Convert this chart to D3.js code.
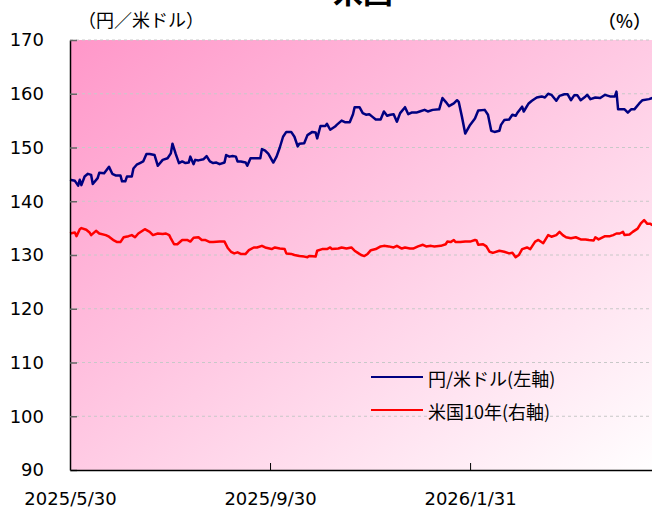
<!DOCTYPE html>
<html>
<head>
<meta charset="utf-8">
<script src="https://d3js.org/d3.v7.min.js"></script>
<style>
body { margin: 0; background: #fff; }
svg { display: block; font-family: "DejaVu Sans", Verdana, sans-serif; }
.jp { font-family: "Noto Sans CJK JP", sans-serif; }
</style>
</head>
<body>
<svg id="chart" width="652" height="509"></svg>
<script>
// 円/米ドル (left axis)
const usdJpy = [
["2025-05-30",144.0],["2025-06-02",143.8],["2025-06-04",142.9],["2025-06-05",144.0],["2025-06-06",143.0],
["2025-06-08",144.6],["2025-06-10",145.1],["2025-06-12",144.9],["2025-06-13",143.2],["2025-06-16",144.3],
["2025-06-17",145.3],["2025-06-20",145.2],["2025-06-23",146.4],["2025-06-25",145.1],["2025-06-27",144.8],
["2025-06-30",144.8],["2025-07-01",143.7],["2025-07-03",143.7],["2025-07-04",144.6],["2025-07-07",144.6],
["2025-07-08",146.1],["2025-07-10",146.8],["2025-07-12",147.1],["2025-07-14",147.4],["2025-07-16",148.8],
["2025-07-18",148.8],["2025-07-21",148.6],["2025-07-23",146.6],["2025-07-26",147.7],["2025-07-29",148.0],
["2025-07-31",148.9],["2025-08-01",150.7],["2025-08-03",148.8],["2025-08-05",147.1],["2025-08-07",147.4],
["2025-08-09",147.1],["2025-08-11",147.2],["2025-08-12",148.3],["2025-08-14",146.9],["2025-08-15",147.7],
["2025-08-17",147.6],["2025-08-20",147.8],["2025-08-22",148.4],["2025-08-24",147.4],["2025-08-26",147.1],
["2025-08-28",147.2],["2025-08-30",146.9],["2025-09-02",147.2],["2025-09-03",148.6],["2025-09-05",148.3],
["2025-09-07",148.4],["2025-09-09",148.3],["2025-09-10",147.4],["2025-09-12",147.4],["2025-09-15",147.2],
["2025-09-16",146.6],["2025-09-18",148.0],["2025-09-21",148.0],["2025-09-24",148.0],["2025-09-25",149.7],
["2025-09-27",149.4],["2025-09-29",148.8],["2025-10-02",147.2],["2025-10-04",148.3],["2025-10-06",150.0],
["2025-10-08",152.0],["2025-10-10",152.9],["2025-10-13",152.9],["2025-10-15",152.0],["2025-10-17",150.2],
["2025-10-18",150.7],["2025-10-21",150.8],["2025-10-23",152.3],["2025-10-26",152.9],["2025-10-28",152.8],
["2025-10-29",151.7],["2025-10-31",154.0],["2025-11-03",154.0],["2025-11-04",154.4],["2025-11-06",153.3],
["2025-11-09",153.9],["2025-11-10",154.2],["2025-11-13",155.0],["2025-11-15",154.7],["2025-11-18",154.7],
["2025-11-20",156.2],["2025-11-21",157.5],["2025-11-24",157.5],["2025-11-26",156.4],["2025-11-28",156.1],
["2025-11-30",156.2],["2025-12-02",155.7],["2025-12-04",155.2],["2025-12-07",155.2],["2025-12-09",156.7],
["2025-12-11",155.9],["2025-12-13",156.1],["2025-12-15",156.2],["2025-12-17",154.8],["2025-12-19",156.4],
["2025-12-22",157.5],["2025-12-24",156.2],["2025-12-26",156.5],["2025-12-29",156.5],["2025-12-31",156.7],
["2026-01-03",157.0],["2026-01-05",156.7],["2026-01-08",157.0],["2026-01-12",157.1],["2026-01-14",159.2],
["2026-01-16",158.5],["2026-01-18",157.7],["2026-01-21",158.2],["2026-01-23",158.8],["2026-01-24",158.5],
["2026-01-26",155.7],["2026-01-28",152.6],["2026-01-31",154.2],["2026-02-03",155.4],["2026-02-05",156.9],
["2026-02-09",157.0],["2026-02-11",156.1],["2026-02-13",153.1],["2026-02-15",152.9],["2026-02-18",153.1],
["2026-02-19",154.2],["2026-02-21",155.1],["2026-02-24",155.2],["2026-02-26",156.1],["2026-02-28",155.9],
["2026-03-01",156.4],["2026-03-04",157.6],["2026-03-05",156.7],["2026-03-08",158.2],["2026-03-10",158.7],
["2026-03-13",159.3],["2026-03-16",159.5],["2026-03-18",159.3],["2026-03-20",160.0],["2026-03-22",159.8],
["2026-03-25",158.7],["2026-03-27",159.6],["2026-03-30",159.9],["2026-04-01",159.9],["2026-04-03",158.8],
["2026-04-05",159.7],["2026-04-07",159.7],["2026-04-09",158.8],["2026-04-12",159.5],["2026-04-13",159.8],
["2026-04-15",159.0],["2026-04-18",159.3],["2026-04-21",159.2],["2026-04-24",159.8],["2026-04-27",159.5],
["2026-04-30",159.5],["2026-05-01",160.4],["2026-05-02",157.1],["2026-05-06",157.1],["2026-05-08",156.5],
["2026-05-10",157.1],["2026-05-12",157.1],["2026-05-15",158.2],["2026-05-17",158.8],["2026-05-21",159.0],
["2026-05-23",159.2]
];

// 米国10年 (right axis, %)
const us10y = [
["2025-05-30",4.40],["2025-06-02",4.42],["2025-06-03",4.35],["2025-06-05",4.48],["2025-06-06",4.50],
["2025-06-09",4.47],["2025-06-11",4.42],["2025-06-12",4.37],["2025-06-15",4.45],["2025-06-17",4.40],
["2025-06-21",4.37],["2025-06-23",4.34],["2025-06-26",4.27],["2025-06-28",4.24],["2025-06-30",4.24],
["2025-07-02",4.33],["2025-07-05",4.35],["2025-07-07",4.37],["2025-07-09",4.33],["2025-07-11",4.40],
["2025-07-15",4.48],["2025-07-18",4.43],["2025-07-20",4.37],["2025-07-23",4.40],["2025-07-26",4.39],
["2025-07-28",4.40],["2025-07-30",4.37],["2025-07-31",4.31],["2025-08-02",4.20],["2025-08-04",4.20],
["2025-08-07",4.28],["2025-08-10",4.28],["2025-08-12",4.25],["2025-08-14",4.32],["2025-08-17",4.33],
["2025-08-19",4.28],["2025-08-21",4.28],["2025-08-24",4.24],["2025-08-26",4.24],["2025-08-30",4.25],
["2025-09-02",4.25],["2025-09-04",4.13],["2025-09-06",4.06],["2025-09-08",4.03],["2025-09-10",4.05],
["2025-09-12",4.02],["2025-09-15",4.02],["2025-09-17",4.09],["2025-09-20",4.14],["2025-09-22",4.14],
["2025-09-25",4.17],["2025-09-27",4.14],["2025-10-01",4.11],["2025-10-03",4.14],["2025-10-06",4.12],
["2025-10-09",4.11],["2025-10-10",4.03],["2025-10-13",4.02],["2025-10-15",4.00],["2025-10-18",3.98],
["2025-10-21",3.97],["2025-10-23",3.96],["2025-10-24",3.98],["2025-10-28",3.97],["2025-10-29",4.08],
["2025-11-01",4.11],["2025-11-04",4.11],["2025-11-06",4.14],["2025-11-07",4.11],["2025-11-11",4.12],
["2025-11-13",4.14],["2025-11-16",4.12],["2025-11-19",4.14],["2025-11-21",4.08],["2025-11-23",4.04],
["2025-11-25",4.00],["2025-11-27",3.98],["2025-11-29",4.02],["2025-12-01",4.09],["2025-12-04",4.11],
["2025-12-07",4.16],["2025-12-09",4.17],["2025-12-12",4.16],["2025-12-15",4.14],["2025-12-17",4.17],
["2025-12-20",4.12],["2025-12-22",4.14],["2025-12-25",4.12],["2025-12-27",4.12],["2025-12-30",4.16],
["2026-01-02",4.19],["2026-01-04",4.16],["2026-01-07",4.17],["2026-01-09",4.16],["2026-01-13",4.17],
["2026-01-16",4.20],["2026-01-17",4.25],["2026-01-19",4.24],["2026-01-21",4.28],["2026-01-22",4.24],
["2026-01-25",4.24],["2026-01-28",4.25],["2026-01-31",4.25],["2026-02-03",4.28],["2026-02-04",4.27],
["2026-02-05",4.19],["2026-02-08",4.20],["2026-02-10",4.16],["2026-02-12",4.06],["2026-02-14",4.04],
["2026-02-18",4.08],["2026-02-21",4.06],["2026-02-24",4.03],["2026-02-26",4.04],["2026-02-28",3.96],
["2026-03-02",4.00],["2026-03-04",4.11],["2026-03-07",4.14],["2026-03-09",4.11],["2026-03-12",4.25],
["2026-03-14",4.28],["2026-03-17",4.22],["2026-03-20",4.37],["2026-03-22",4.34],["2026-03-25",4.37],
["2026-03-27",4.43],["2026-03-29",4.37],["2026-03-31",4.33],["2026-04-03",4.31],["2026-04-06",4.33],
["2026-04-09",4.29],["2026-04-12",4.29],["2026-04-14",4.28],["2026-04-17",4.27],["2026-04-18",4.33],
["2026-04-20",4.29],["2026-04-24",4.35],["2026-04-27",4.35],["2026-04-29",4.37],["2026-05-01",4.40],
["2026-05-03",4.40],["2026-05-05",4.43],["2026-05-06",4.37],["2026-05-09",4.38],["2026-05-11",4.43],
["2026-05-14",4.49],["2026-05-16",4.59],["2026-05-18",4.65],["2026-05-20",4.58],["2026-05-22",4.58],
["2026-05-23",4.55]
];

const leftTicks = [90, 100, 110, 120, 130, 140, 150, 160, 170];
const rightTicks = [0, 1, 2, 3, 4, 5, 6, 7, 8];
const xTickDates = ["2025-05-30", "2025-09-30", "2026-01-31"];
const xTickLabels = ["2025/5/30", "2025/9/30", "2026/1/31"];
const legendNames = ["円/米ドル(左軸)", "米国10年(右軸)"];

const parse = d3.timeParse("%Y-%m-%d");
const svg = d3.select("#chart");

const plotLeft = 70, plotTop = 40, plotBottom = 470, plotRight = 662;

const x = d3.scaleTime()
            .domain([parse("2025-05-30"), parse("2026-05-29")])
            .range([plotLeft, plotRight]);
const yL = d3.scaleLinear().domain([90, 170]).range([plotBottom, plotTop]);
const yR = d3.scaleLinear().domain([0, 8]).range([plotBottom, plotTop]);

// background gradient
const defs = svg.append("defs");
const grad = defs.append("linearGradient")
                 .attr("id", "bg")
                 .attr("x1", 0).attr("y1", 0)
                 .attr("x2", 1).attr("y2", 1);
grad.append("stop").attr("offset", "0%").attr("stop-color", "#ff97c9");
grad.append("stop").attr("offset", "100%").attr("stop-color", "#ffffff");

svg.append("rect")
   .attr("x", plotLeft).attr("y", plotTop)
   .attr("width", plotRight - plotLeft).attr("height", plotBottom - plotTop)
   .attr("fill", "url(#bg)");

// gridlines
svg.append("g")
   .selectAll("line")
   .data(leftTicks.filter(d => d > 90))
   .join("line")
   .attr("x1", plotLeft).attr("x2", plotRight)
   .attr("y1", d => yL(d)).attr("y2", d => yL(d))
   .attr("stroke", "#c8c8c8")
   .attr("stroke-dasharray", "3,3");

// title (top of the page cuts it)
svg.append("text")
   .attr("class", "jp")
   .attr("x", 363).attr("y", 3)
   .attr("text-anchor", "middle")
   .attr("font-size", 30)
   .attr("font-weight", "bold")
   .text("米国");

svg.append("text")
   .attr("class", "jp")
   .attr("x", 78).attr("y", 27)
   .attr("font-size", 18)
   .text("（円／米ドル）");

svg.append("text")
   .attr("class", "jp")
   .attr("x", 651).attr("y", 28)
   .attr("text-anchor", "end")
   .attr("font-size", 18)
   .attr("font-weight", 500)
   .text("（%）");

// lines
let lineL = d3.line().x(d => x(parse(d[0]))).y(d => yL(d[1]));
let lineR = d3.line().x(d => x(parse(d[0]))).y(d => yR(d[1]));

svg.append("path")
   .datum(us10y)
   .attr("d", lineR)
   .attr("fill", "none")
   .attr("stroke", "#ff0000")
   .attr("stroke-width", 2.5)
   .attr("stroke-linejoin", "round");

svg.append("path")
   .datum(usdJpy)
   .attr("d", lineL)
   .attr("fill", "none")
   .attr("stroke", "#000080")
   .attr("stroke-width", 2.5)
   .attr("stroke-linejoin", "round");

// axes
const axL = svg.append("g")
   .attr("transform", "translate(" + plotLeft + ",0)")
   .call(d3.axisLeft(yL).tickValues(leftTicks).tickSizeInner(-7).tickSizeOuter(0).tickPadding(26));
axL.select(".domain").attr("stroke", "#000").attr("stroke-width", 1.5);
axL.selectAll(".tick line").attr("stroke", "#666").attr("stroke-width", 1.5);
axL.selectAll("text").attr("font-size", 18).attr("font-family", "DejaVu Sans").attr("fill", "#000");

// right axis sits past the page edge; its labels are not visible in the picture
svg.append("g")
   .attr("transform", "translate(" + plotRight + ",0)")
   .call(d3.axisRight(yR).tickValues(rightTicks).tickSizeInner(-7).tickSizeOuter(0).tickFormat(""));

const axB = svg.append("g")
   .attr("transform", "translate(0," + plotBottom + ")")
   .call(d3.axisBottom(x)
           .tickValues(xTickDates.map(parse))
           .tickFormat((d, i) => xTickLabels[i])
           .tickSizeInner(-7).tickSizeOuter(0).tickPadding(22));
axB.select(".domain").attr("stroke", "#000").attr("stroke-width", 1.5);
axB.selectAll(".tick line").attr("stroke", "#000");
axB.selectAll("text").attr("font-size", 18).attr("font-family", "DejaVu Sans").attr("fill", "#000");

// legend
const legend = svg.append("g")
                  .selectAll("g")
                  .data(legendNames)
                  .join("g")
                  .attr("transform", (d, i) => "translate(371," + (377 + i * 33) + ")");
legend.append("line")
      .attr("x1", 0).attr("x2", 52)
      .attr("stroke", (d, i) => i == 0 ? "#000080" : "#ff0000")
      .attr("stroke-width", 2.2);
legend.append("text")
      .attr("class", "jp")
      .attr("x", 57).attr("y", 1)
      .attr("dominant-baseline", "central")
      .attr("font-size", 18)
      .text(d => d);
</script>
</body>
</html>
